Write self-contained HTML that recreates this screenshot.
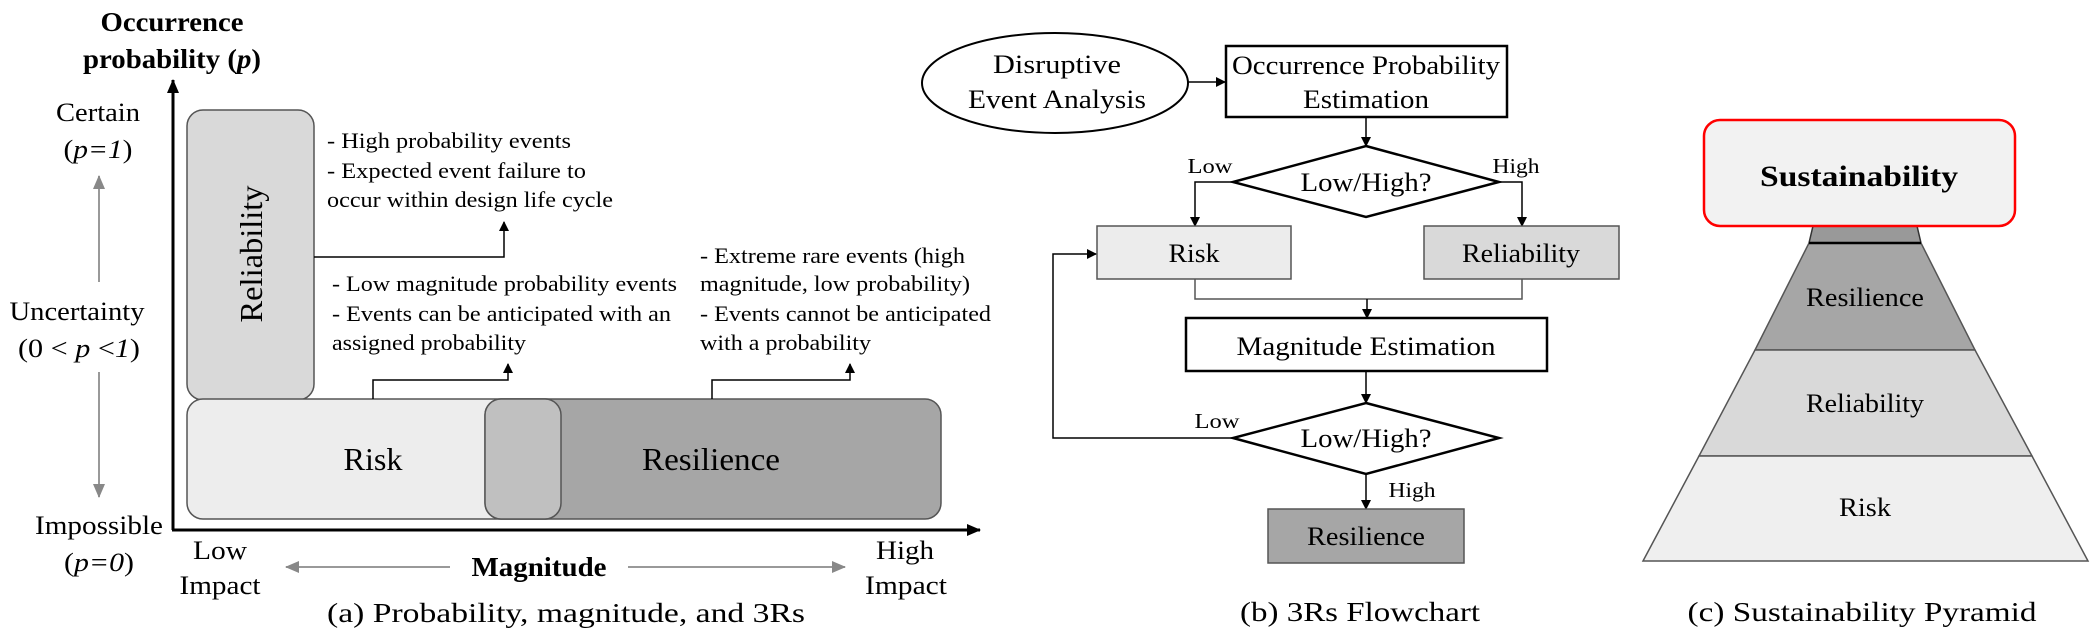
<!DOCTYPE html>
<html><head><meta charset="utf-8"><style>
html,body{margin:0;padding:0;background:#fff;}
svg{display:block;font-family:"Liberation Serif","Times New Roman",serif;}
text{font-family:"Liberation Serif","Times New Roman",serif;fill:#000;}
</style></head><body>
<svg width="2099" height="638" viewBox="0 0 2099 638" xmlns="http://www.w3.org/2000/svg" font-family="Liberation Serif, serif">
<defs>
<marker id="ab" markerWidth="10" markerHeight="10" refX="9" refY="5" orient="auto" markerUnits="userSpaceOnUse"><path d="M0,0 L10,5 L0,10 z" fill="#000"/></marker>
<marker id="abig" markerWidth="14" markerHeight="14" refX="13" refY="7" orient="auto" markerUnits="userSpaceOnUse"><path d="M0,1 L14,7 L0,13 z" fill="#000"/></marker>
<marker id="ag" markerWidth="14" markerHeight="12" refX="13" refY="6" orient="auto" markerUnits="userSpaceOnUse"><path d="M0,0 L14,6 L0,12 z" fill="#888"/></marker>
</defs>

<!-- (a) -->
<text x="172" y="31" font-size="27" font-weight="bold" text-anchor="middle" textLength="143" lengthAdjust="spacingAndGlyphs">Occurrence</text>
<text x="172" y="68" font-size="27" font-weight="bold" text-anchor="middle" textLength="178" lengthAdjust="spacingAndGlyphs">probability (<tspan font-style="italic">p</tspan>)</text>

<text x="98" y="121" font-size="26" text-anchor="middle" textLength="84" lengthAdjust="spacingAndGlyphs">Certain</text>
<text x="98" y="158" font-size="26" text-anchor="middle" textLength="69" lengthAdjust="spacingAndGlyphs">(<tspan font-style="italic">p=1</tspan>)</text>
<text x="77" y="320" font-size="26" text-anchor="middle" textLength="135" lengthAdjust="spacingAndGlyphs">Uncertainty</text>
<text x="79" y="357" font-size="26" text-anchor="middle" textLength="122" lengthAdjust="spacingAndGlyphs">(0 &lt; <tspan font-style="italic">p</tspan> &lt;<tspan font-style="italic">1</tspan>)</text>
<text x="99" y="534" font-size="26" text-anchor="middle" textLength="128" lengthAdjust="spacingAndGlyphs">Impossible</text>
<text x="99" y="571" font-size="26" text-anchor="middle" textLength="70" lengthAdjust="spacingAndGlyphs">(<tspan font-style="italic">p=0</tspan>)</text>

<line x1="99" y1="282" x2="99" y2="176" stroke="#999" stroke-width="2" marker-end="url(#ag)"/>
<line x1="99" y1="372" x2="99" y2="497" stroke="#999" stroke-width="2" marker-end="url(#ag)"/>

<rect x="187" y="110" width="127" height="290" rx="16" fill="#d9d9d9" stroke="#555" stroke-width="1.5"/>
<rect x="187" y="399" width="375" height="120" rx="16" fill="#ededed" stroke="#555" stroke-width="1.5"/>
<rect x="485" y="399" width="456" height="120" rx="16" fill="#a6a6a6" stroke="#555" stroke-width="1.5"/>
<path d="M501,399 L545,399 A16,16 0 0 1 561,415 L561,503 A16,16 0 0 1 545,519 L501,519 A16,16 0 0 1 485,503 L485,415 A16,16 0 0 1 501,399 z" fill="#c0c0c0" stroke="#555" stroke-width="1.5"/>
<text x="0" y="0" font-size="32" text-anchor="middle" transform="translate(262,254) rotate(-90)" textLength="137" lengthAdjust="spacingAndGlyphs">Reliability</text>
<text x="373" y="470" font-size="32" text-anchor="middle" textLength="59" lengthAdjust="spacingAndGlyphs">Risk</text>
<text x="711" y="470" font-size="32" text-anchor="middle" textLength="138" lengthAdjust="spacingAndGlyphs">Resilience</text>

<line x1="173" y1="530" x2="173" y2="80" stroke="#000" stroke-width="3" marker-end="url(#abig)"/>
<line x1="172" y1="530" x2="980" y2="530" stroke="#000" stroke-width="3" marker-end="url(#abig)"/>

<polyline points="314,257 504,257 504,222" fill="none" stroke="#000" stroke-width="1.5" marker-end="url(#ab)"/>
<polyline points="373,399 373,380 508,380 508,364" fill="none" stroke="#000" stroke-width="1.5" marker-end="url(#ab)"/>
<polyline points="712,399 712,380 850,380 850,364" fill="none" stroke="#000" stroke-width="1.5" marker-end="url(#ab)"/>

<g font-size="22">
<text x="327" y="148" textLength="244" lengthAdjust="spacingAndGlyphs">- High probability events</text>
<text x="327" y="178" textLength="259" lengthAdjust="spacingAndGlyphs">- Expected event failure to</text>
<text x="327" y="207" textLength="286" lengthAdjust="spacingAndGlyphs">occur within design life cycle</text>
<text x="332" y="291" textLength="345" lengthAdjust="spacingAndGlyphs">- Low magnitude probability events</text>
<text x="332" y="321" textLength="339" lengthAdjust="spacingAndGlyphs">- Events can be anticipated with an</text>
<text x="332" y="350" textLength="194" lengthAdjust="spacingAndGlyphs">assigned probability</text>
<text x="700" y="263" textLength="265" lengthAdjust="spacingAndGlyphs">- Extreme rare events (high</text>
<text x="700" y="291" textLength="270" lengthAdjust="spacingAndGlyphs">magnitude, low probability)</text>
<text x="700" y="321" textLength="291" lengthAdjust="spacingAndGlyphs">- Events cannot be anticipated</text>
<text x="700" y="350" textLength="171" lengthAdjust="spacingAndGlyphs">with a probability</text>
</g>

<text x="220" y="559" font-size="26" text-anchor="middle" textLength="54" lengthAdjust="spacingAndGlyphs">Low</text>
<text x="220" y="594" font-size="26" text-anchor="middle" textLength="81" lengthAdjust="spacingAndGlyphs">Impact</text>
<text x="905" y="559" font-size="26" text-anchor="middle" textLength="58" lengthAdjust="spacingAndGlyphs">High</text>
<text x="906" y="594" font-size="26" text-anchor="middle" textLength="82" lengthAdjust="spacingAndGlyphs">Impact</text>
<text x="539" y="576" font-size="27" font-weight="bold" text-anchor="middle" textLength="135" lengthAdjust="spacingAndGlyphs">Magnitude</text>
<line x1="450" y1="567" x2="286" y2="567" stroke="#999" stroke-width="2" marker-end="url(#ag)"/>
<line x1="628" y1="567" x2="845" y2="567" stroke="#999" stroke-width="2" marker-end="url(#ag)"/>
<text x="566" y="622" font-size="27" text-anchor="middle" textLength="478" lengthAdjust="spacingAndGlyphs">(a) Probability, magnitude, and 3Rs</text>

<!-- (b) -->
<ellipse cx="1055" cy="83" rx="133" ry="50" fill="#fff" stroke="#000" stroke-width="2"/>
<text x="1057" y="73" font-size="26" text-anchor="middle" textLength="128" lengthAdjust="spacingAndGlyphs">Disruptive</text>
<text x="1057" y="108" font-size="26" text-anchor="middle" textLength="178" lengthAdjust="spacingAndGlyphs">Event Analysis</text>
<line x1="1188" y1="82" x2="1225" y2="82" stroke="#000" stroke-width="1.5" marker-end="url(#ab)"/>
<rect x="1226" y="46" width="281" height="71" fill="#fff" stroke="#000" stroke-width="2.5"/>
<text x="1366" y="74" font-size="26" text-anchor="middle" textLength="268" lengthAdjust="spacingAndGlyphs">Occurrence Probability</text>
<text x="1366" y="108" font-size="26" text-anchor="middle" textLength="126" lengthAdjust="spacingAndGlyphs">Estimation</text>
<line x1="1366" y1="117" x2="1366" y2="146" stroke="#000" stroke-width="1.5" marker-end="url(#ab)"/>
<polygon points="1366,146 1499,182 1366,217 1233,182" fill="#fff" stroke="#000" stroke-width="2.5"/>
<text x="1366" y="191" font-size="26" text-anchor="middle" textLength="131" lengthAdjust="spacingAndGlyphs">Low/High?</text>
<text x="1210" y="173" font-size="21" text-anchor="middle" textLength="45" lengthAdjust="spacingAndGlyphs">Low</text>
<text x="1516" y="173" font-size="21" text-anchor="middle" textLength="47" lengthAdjust="spacingAndGlyphs">High</text>
<polyline points="1233,182 1195,182 1195,226" fill="none" stroke="#000" stroke-width="1.5" marker-end="url(#ab)"/>
<polyline points="1499,182 1522,182 1522,226" fill="none" stroke="#000" stroke-width="1.5" marker-end="url(#ab)"/>
<rect x="1097" y="226" width="194" height="53" fill="#ececec" stroke="#555" stroke-width="1.5"/>
<text x="1194" y="262" font-size="26" text-anchor="middle" textLength="51" lengthAdjust="spacingAndGlyphs">Risk</text>
<rect x="1424" y="226" width="195" height="53" fill="#d9d9d9" stroke="#555" stroke-width="1.5"/>
<text x="1521" y="262" font-size="26" text-anchor="middle" textLength="118" lengthAdjust="spacingAndGlyphs">Reliability</text>
<polyline points="1195,279 1195,299 1522,299 1522,279" fill="none" stroke="#555" stroke-width="1.5"/>
<line x1="1367" y1="299" x2="1367" y2="318" stroke="#000" stroke-width="1.5" marker-end="url(#ab)"/>
<rect x="1186" y="318" width="361" height="53" fill="#fff" stroke="#000" stroke-width="2.5"/>
<text x="1366" y="355" font-size="26" text-anchor="middle" textLength="259" lengthAdjust="spacingAndGlyphs">Magnitude Estimation</text>
<line x1="1366" y1="371" x2="1366" y2="403" stroke="#000" stroke-width="1.5" marker-end="url(#ab)"/>
<polygon points="1366,403 1499,438 1366,474 1233,438" fill="#fff" stroke="#000" stroke-width="2.5"/>
<text x="1366" y="447" font-size="26" text-anchor="middle" textLength="131" lengthAdjust="spacingAndGlyphs">Low/High?</text>
<text x="1217" y="428" font-size="21" text-anchor="middle" textLength="45" lengthAdjust="spacingAndGlyphs">Low</text>
<text x="1412" y="497" font-size="21" text-anchor="middle" textLength="47" lengthAdjust="spacingAndGlyphs">High</text>
<polyline points="1233,438 1053,438 1053,254 1096,254" fill="none" stroke="#000" stroke-width="1.5" marker-end="url(#ab)"/>
<line x1="1366" y1="474" x2="1366" y2="509" stroke="#000" stroke-width="1.5" marker-end="url(#ab)"/>
<rect x="1268" y="509" width="196" height="54" fill="#a6a6a6" stroke="#555" stroke-width="1.5"/>
<text x="1366" y="545" font-size="26" text-anchor="middle" textLength="118" lengthAdjust="spacingAndGlyphs">Resilience</text>
<text x="1360" y="621" font-size="27" text-anchor="middle" textLength="240" lengthAdjust="spacingAndGlyphs">(b) 3Rs Flowchart</text>

<!-- (c) -->
<polygon points="1813,226 1917,226 1921,243 1809,243" fill="#999" stroke="#333" stroke-width="1.5"/>
<polygon points="1809,243 1921,243 1975,350 1755,350" fill="#a6a6a6" stroke="#555" stroke-width="1.5"/>
<polygon points="1755,350 1975,350 2032,456 1699,456" fill="#d9d9d9" stroke="#555" stroke-width="1.5"/>
<polygon points="1699,456 2032,456 2088,561 1643,561" fill="#efefef" stroke="#555" stroke-width="1.5"/>
<line x1="1809" y1="243" x2="1921" y2="243" stroke="#000" stroke-width="2.5"/>
<rect x="1704" y="120" width="311" height="106" rx="16" fill="#f2f2f2" stroke="#ff0000" stroke-width="2.5"/>
<text x="1859" y="186" font-size="30" font-weight="bold" text-anchor="middle" textLength="198" lengthAdjust="spacingAndGlyphs">Sustainability</text>
<text x="1865" y="306" font-size="26" text-anchor="middle" textLength="118" lengthAdjust="spacingAndGlyphs">Resilience</text>
<text x="1865" y="412" font-size="26" text-anchor="middle" textLength="118" lengthAdjust="spacingAndGlyphs">Reliability</text>
<text x="1865" y="516" font-size="26" text-anchor="middle" textLength="52" lengthAdjust="spacingAndGlyphs">Risk</text>
<text x="1862" y="621" font-size="27" text-anchor="middle" textLength="349" lengthAdjust="spacingAndGlyphs">(c) Sustainability Pyramid</text>
</svg>
</body></html>
